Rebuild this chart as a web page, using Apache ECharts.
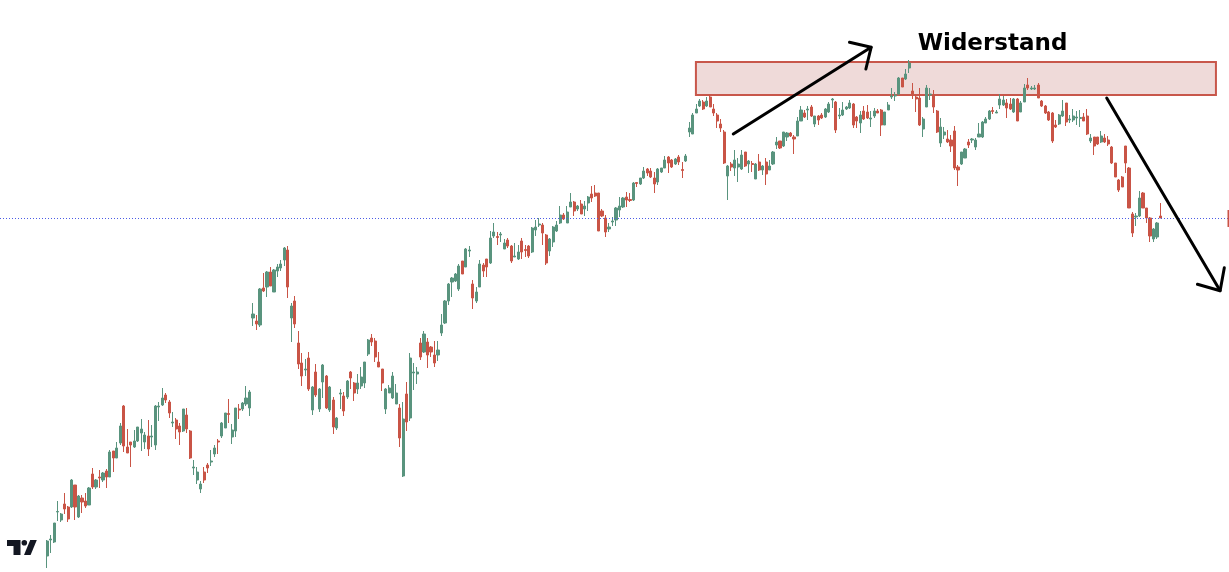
<!DOCTYPE html>
<html lang="de">
<head>
<meta charset="utf-8">
<title>Widerstand</title>
<script src="https://cdn.jsdelivr.net/npm/echarts@6.0.0/dist/echarts.min.js"></script>
<style>
  html, body { margin: 0; padding: 0; background: #ffffff; }
  #chart { width: 1229px; height: 572px; }
</style>
</head>
<body>
<div id="chart"></div>
<script>
// Kerzen-Daten, Reihenfolge: alt -> neu
const opens = [
  44, 60, 58, 88, 80, 96, 93, 93, 115, 83,
  102, 99, 95, 126, 113, 123, 120, 129, 123, 149,
  142, 157, 194, 153, 158, 153, 159, 167, 158, 164,
  163, 155, 193, 195, 205, 198, 177, 180, 174, 169,
  185, 169, 132, 120, 111, 128, 135, 138, 146, 159,
  164, 172, 186.5, 163, 169, 191, 191, 196, 192, 282,
  279, 275, 312, 313, 328, 308, 329, 332, 340, 350,
  282, 299, 257, 237, 230, 242, 190, 228, 191, 218,
  224, 190, 200, 172, 206, 204, 203, 228, 217, 211,
  214, 217, 246, 262, 259, 238, 231, 191, 207, 202,
  196, 192, 124, 206, 182, 227, 226, 257, 248, 258,
  253, 245, 245, 267, 277, 299, 318, 319, 311, 339,
  333, 349, 316, 299, 313, 335, 341, 337, 364, 363.5,
  365, 351, 360, 354, 343, 341, 359, 350.5, 354, 348,
  370, 375, 375, 365, 349, 358, 369, 377, 385, 377,
  393, 398, 391, 396, 391, 397, 406, 407, 407, 389,
  382, 371, 378, 380, 390, 393, 403, 400.5, 400, 417.5,
  416, 422, 431, 429, 422, 418, 428, 432, 443, 440,
  436, 443, 430.5, 439, 468, 466, 487, 494, 498, 494,
  503, 491, 485, 476, 468, 424, 436, 432, 433, 431,
  448, 436, 436.5, 421, 438, 430, 438, 430, 436, 455,
  459, 454, 463, 467, 463, 464, 479, 487, 490, 493,
  476, 484, 485, 483, 488, 500, 498, 484, 485, 491,
  492, 496, 483, 477, 489, 488, 481, 484, 489, 490,
  475, 490, 503, 504, 506, 522, 521, 532, 509, 503,
  502, 471, 493, 505, 505, 489, 457, 465, 461, 460,
  469, 433, 436, 442, 458, 460, 453, 463, 463, 477,
  481, 489.5, 487, 495, 495, 497, 496, 488, 501, 488,
  498, 515, 511, 511, 515, 499, 494, 488, 487, 475,
  476, 484, 497, 480, 480, 482, 481.5, 483, 484, 459,
  463, 463, 458, 462, 460, 453, 437, 420, 423, 454,
  432, 386, 383, 384, 407, 392, 382, 361, 363, 384
];
const closes = [
  59, 61, 77, 88.5, 86, 91, 81, 120, 93, 104,
  98, 94, 112, 113, 120, 122, 127, 123, 148, 142,
  152, 174, 154, 147, 155, 159, 173, 171, 165, 151,
  164, 194, 194, 202, 200, 187, 178, 171, 168, 191,
  171, 142, 133, 128, 116, 120, 132, 139, 152, 158,
  177, 187, 185.5, 170, 192, 190, 197, 202, 208, 286,
  276, 311, 309, 328, 314, 330, 333, 336, 352, 313,
  294, 276, 236, 224, 231, 211, 213, 205, 211, 235,
  192, 213, 173, 182, 207, 189, 219, 222, 207, 217,
  223, 238, 260, 258, 243, 233, 217, 211, 212, 224,
  207, 162, 181, 178, 242, 228, 228, 243, 266, 245,
  248, 237, 250, 275, 299, 316, 322, 326, 334, 326,
  351, 350, 302, 308, 336, 329, 333, 362, 368, 362.5,
  366, 357, 354, 339, 344, 348, 348, 349.5, 344, 372,
  373, 376, 367, 337, 361, 373, 375, 385, 381, 388,
  398, 389, 394, 386, 394, 403, 402, 404, 369, 384,
  368, 373, 379, 392, 394, 402, 400, 399.5, 417, 416.5,
  422, 429, 427, 423, 416, 431, 432, 440, 437, 433,
  441, 438, 429.5, 444, 472, 485, 491, 499, 491, 499,
  493, 487, 479, 472, 437, 434, 433, 440, 436, 445,
  434, 439, 435.5, 436, 430, 434, 426, 434, 448, 458,
  452, 468, 467, 464, 461, 479, 490, 483, 491, 484,
  484, 480, 482, 491, 496, 501, 470, 485, 490, 493,
  497, 475, 479, 485, 481, 482, 482, 489, 487, 475,
  488, 495, 504, 505, 522, 513, 526, 537, 506, 501,
  475, 481, 512, 506, 493, 468, 473, 468, 458, 454,
  432, 430, 448, 451, 455, 461, 460, 466, 478, 481,
  489, 488.5, 488, 501, 500, 492, 491, 501, 479, 497,
  512, 512, 512, 512, 502, 494, 487, 480, 459, 473,
  485, 489, 478, 481, 484, 483, 482.5, 479, 466, 462,
  454, 456, 464, 458, 456, 437, 423, 410, 413, 437,
  392, 367, 384, 402, 392, 382, 364, 371, 377, 382
];
const lows = [
  32, 47, 57, 79, 78, 86, 78, 92, 80, 82,
  87, 92, 95, 111, 111, 112, 118, 112, 123, 128,
  142, 155, 148, 147, 133, 152, 158, 149, 151, 144,
  153, 150, 179, 194, 197, 182, 173, 161, 155, 168,
  167, 141, 125, 116, 107, 117, 127, 134, 143, 146,
  162, 172, 177, 156, 163, 181, 189, 194, 184, 274,
  270, 273, 308, 303, 314, 308, 323, 329, 334, 302,
  258, 272, 231, 214, 224, 209, 185, 203, 188, 202,
  191, 188, 166, 170, 191, 184, 201, 211, 199, 206,
  211, 212, 244, 254, 238, 233, 209, 186, 207, 201,
  196, 153, 123, 169, 179, 210, 216, 240, 247, 232,
  243, 233, 239, 264, 276, 295, 303, 318, 309, 326,
  333, 343, 291, 297, 313, 323, 323, 336, 362, 355,
  358, 351, 352, 337, 343, 340, 341, 343, 342, 347,
  364, 373, 355, 335, 344, 353, 368, 376, 380, 377,
  393, 384, 389, 386, 384, 389, 398, 403, 369, 383,
  363, 368, 374, 374, 383, 392, 393, 398, 399, 413,
  415, 421, 424, 422, 407, 415, 427, 432, 427, 432,
  435, 435, 422, 438, 463, 466, 487, 493, 490, 493,
  493, 484, 472, 468, 436, 400, 429, 424, 418, 430,
  433, 427, 428, 421, 429, 425, 415, 430, 435, 451,
  451, 453, 459, 463, 446, 464, 479, 482, 480, 483,
  473, 475, 481, 482, 487, 492, 467, 481, 484, 490,
  491, 472, 472, 467, 480, 481, 473, 482, 487, 464,
  475, 490, 501, 499, 505, 513, 520, 527, 501, 488,
  474, 463, 493, 500, 487, 467, 453, 461, 457, 448,
  430, 414, 435, 442, 452, 457, 450, 463, 462, 477,
  480, 486, 487, 491, 494, 482, 490, 487, 479, 488,
  498, 510, 510, 510, 502, 493, 486, 479, 457, 472,
  475, 483, 474, 477, 478, 475, 473, 479, 465, 457,
  445, 455, 457, 457, 454, 436, 423, 408, 413, 427,
  392, 363, 374, 383, 392, 377, 358, 358, 361, 382
];
const highs = [
  60, 65, 77, 99, 87, 107, 94, 121, 115, 105,
  105, 107, 113, 132, 121, 130, 128, 131, 150, 149,
  158, 177, 195, 171, 158, 170, 173, 181, 168, 180,
  175, 195, 198, 212, 207, 200, 188, 182, 177, 191,
  192, 170, 140, 133, 119, 133, 137, 150, 155, 161,
  178, 187, 201, 176, 192, 196, 198, 214, 210, 297,
  285, 312, 327, 329, 333, 331, 336, 340, 353, 354,
  297, 304, 269, 247, 241, 248, 214, 236, 212, 236,
  225, 214, 203, 183, 211, 208, 220, 229, 218, 226,
  233, 238, 261, 266, 262, 248, 231, 212, 215, 228,
  216, 196, 198, 218, 247, 237, 233, 262, 269, 262,
  254, 259, 259, 286, 300, 317, 323, 327, 336, 339,
  352, 354, 320, 313, 340, 337, 341, 369, 377, 368,
  368, 361, 362, 355, 357, 355, 362, 355, 355, 373,
  380, 382, 377, 366, 362, 374, 379, 394, 387, 394,
  407, 399, 395, 400, 399, 404, 414, 415, 407, 391,
  385, 377, 383, 393, 403, 403, 408, 407, 418, 418,
  422, 433, 432, 432, 428, 432, 432, 444, 444, 441,
  442, 445, 438, 446, 478, 487, 496, 501, 500, 503,
  505, 496, 487, 481, 470, 435, 438, 450, 442, 450,
  448, 440, 439, 437, 446, 435, 442, 440, 449, 463,
  459, 468, 468, 468, 465, 483, 494, 490, 494, 495,
  484, 485, 487, 492, 498, 502, 499, 492, 498, 494,
  500, 497, 484, 489, 494, 495, 489, 492, 491, 491,
  488, 498, 512, 508, 523, 522, 531, 540, 517, 506,
  512, 483, 515, 512, 510, 490, 482, 473, 470, 465,
  474, 435, 448, 452, 461, 462, 462, 477, 479, 483,
  490, 493, 490, 506, 504, 501, 502, 502, 502, 499,
  516, 522, 514, 515, 517, 500, 495, 489, 488, 480,
  486, 500, 497, 485, 491, 489, 490, 487, 491, 466,
  463, 463, 469, 466, 464, 454, 437, 421, 424, 454,
  433, 388, 387, 409, 408, 392, 383, 372, 378, 397
];

// Zeitachse: leere Balken links, Kerzen, freier Raum rechts
const leadBars = 13;
const totalBars = 352;
const days = Array.from({ length: totalBars }, (_, i) => 'T' + (i + 1));

// letzter Kurs (gepunktete Linie)
const lastPrice = 382;

// Zeichnungen (Balkenindex, Kurs)
const zoneX = [198.9, 347.9];
const zoneY = [505, 538];
const arrowUpShaft = [[209.6, 466], [249.1, 552.7]];
const arrowUpHead = [[242.9, 557.7], [249.1, 552.7], [247.6, 531]];
const arrowDownShaft = [[316.6, 502], [349.1, 309.3]];
const arrowDownHead = [[342.6, 315.7], [349.1, 309.3], [350.3, 332.3]];

const upColor = '#59947e';
const downColor = '#c95446';

const chart = echarts.init(document.getElementById('chart'));

const candles = opens.map((o, i) => [i + leadBars, o, closes[i], lows[i], highs[i]]);

const drawLine = (points, z) => ({
  type: 'line',
  xAxisIndex: 1,
  data: points,
  symbol: 'none',
  silent: true,
  z,
  lineStyle: { color: '#000', width: 3, cap: 'round', join: 'round' }
});

const option = {
  animation: false,
  backgroundColor: '#ffffff',
  grid: { left: 0, right: 0.5, top: 0, bottom: 0 },
  xAxis: [
    { type: 'category', data: days, show: false, boundaryGap: true },
    { type: 'value', min: -0.5, max: totalBars - 0.5, show: false }
  ],
  yAxis: { type: 'value', min: 28, max: 600, show: false, splitLine: { show: false } },
  series: [
    {
      type: 'candlestick',
      data: candles,
      encode: { x: 0, y: [1, 2, 3, 4] },
      barWidth: 2.6,
      itemStyle: {
        color: upColor,
        color0: downColor,
        borderColor: upColor,
        borderColor0: downColor,
        borderWidth: 1
      },
      markLine: {
        silent: true,
        symbol: 'none',
        label: { show: false },
        lineStyle: { color: '#4c5ce6', width: 1, type: [1, 2] },
        data: [{ yAxis: lastPrice }]
      }
    },
    {
      // Widerstandszone
      type: 'line',
      xAxisIndex: 1,
      data: [],
      silent: true,
      markArea: {
        silent: true,
        label: { show: false },
        itemStyle: { color: '#efdad9', borderColor: '#c8574b', borderWidth: 2 },
        data: [[{ coord: [zoneX[0], zoneY[1]] }, { coord: [zoneX[1], zoneY[0]] }]]
      }
    },
    drawLine(arrowUpShaft, 6),
    drawLine(arrowUpHead, 6),
    drawLine(arrowDownShaft, 6),
    drawLine(arrowDownHead, 6)
  ],
  graphic: [
    {
      type: 'text',
      x: 992.5,
      y: 44,
      z: 10,
      style: {
        text: 'Widerstand',
        font: 'bold 23px "DejaVu Sans"',
        fill: '#000',
        align: 'center',
        verticalAlign: 'middle'
      }
    },
    {
      // Preisetikett am rechten Rand (angeschnitten)
      type: 'rect',
      z: 10,
      shape: { x: 1227.5, y: 210, width: 1.5, height: 17 },
      style: { fill: downColor }
    },
    {
      // TradingView-Logo
      type: 'group',
      z: 10,
      children: [
        {
          type: 'polygon',
          shape: { points: [[7, 540], [20.5, 540], [20.5, 555], [13.5, 555], [13.5, 546], [7, 546]] },
          style: { fill: '#131722' }
        },
        {
          type: 'circle',
          shape: { cx: 24.3, cy: 542.8, r: 2.8 },
          style: { fill: '#131722' }
        },
        {
          type: 'polygon',
          shape: { points: [[30.2, 540], [36.8, 540], [30.6, 555], [24, 555]] },
          style: { fill: '#131722' }
        }
      ]
    }
  ]
};

chart.setOption(option);
window.addEventListener('resize', () => chart.resize());
</script>
</body>
</html>
